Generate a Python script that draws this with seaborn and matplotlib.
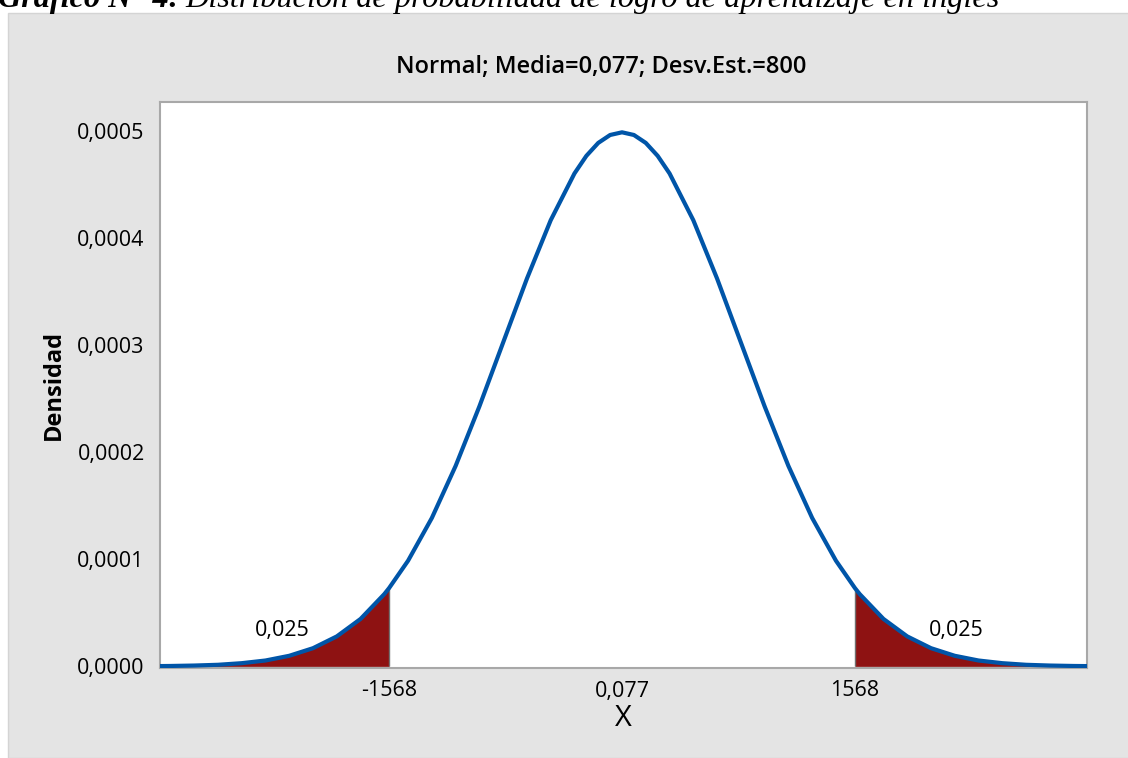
import numpy as np
import pandas as pd
import matplotlib
matplotlib.use("Agg")
import matplotlib.pyplot as plt
import seaborn as sns
from matplotlib.patches import Rectangle

# valores (densidad normal, media 0,077, desv.est. 800)
x_vals = [-3200, -3040, -2880, -2720, -2560, -2400, -2240, -2080, -1920, -1760,
          -1600, -1568, -1440, -1280, -1120, -960, -800, -640, -480, -320, -240, -160, -80,
          0, 80, 160, 240, 320, 480, 640, 800, 960, 1120, 1280, 1440, 1568, 1600, 1760,
          1920, 2080, 2240, 2400, 2560, 2720, 2880, 3040, 3200]
dens_e4 = [0.002, 0.004, 0.008, 0.015, 0.030, 0.055, 0.099, 0.170, 0.280, 0.443,
           0.675, 0.731, 0.987, 1.386, 1.872, 2.428, 3.025, 3.621, 4.166, 4.603, 4.767, 4.888, 4.962,
           4.987, 4.962, 4.888, 4.767, 4.603, 4.166, 3.621, 3.025, 2.428, 1.872, 1.386, 0.987, 0.731,
           0.675, 0.443, 0.280, 0.170, 0.099, 0.055, 0.030, 0.015, 0.008, 0.004, 0.002]
crit_left = -1568
crit_right = 1568
tail_prob = "0,025"

x_ticks = [-1568, 0.077, 1568]
x_ticklabels = ["-1568", "0,077", "1568"]
y_ticks = [0.0, 0.0001, 0.0002, 0.0003, 0.0004, 0.0005]
y_ticklabels = ["0,0000", "0,0001", "0,0002", "0,0003", "0,0004", "0,0005"]

df = pd.DataFrame({"x": x_vals, "dens": np.array(dens_e4) * 1e-4})

sns.set_theme(style="white")
plt.rcParams['font.family'] = ['Open Sans', 'DejaVu Sans']
plt.rcParams['text.color'] = 'black'
plt.rcParams['axes.labelcolor'] = 'black'
plt.rcParams['xtick.color'] = 'black'
plt.rcParams['ytick.color'] = 'black'

W, H = 1128, 758
fig = plt.figure(figsize=(W / 100, H / 100), dpi=100)
fig.patch.set_facecolor("white")

# panel gris de fondo
fig.patches.append(Rectangle((8 / W, 0), 1.0, 1 - 13 / H, transform=fig.transFigure,
                             facecolor="#E4E4E4", edgecolor="#D4D4D4", lw=1, zorder=-10))

ax = fig.add_axes([160 / W, 1 - 668 / H, (1087 - 160) / W, (668 - 102) / H])
ax.set_zorder(1)
ax.set_facecolor("white")

# colas sombreadas
left = df[df["x"] <= crit_left]
right = df[df["x"] >= crit_right]
ax.fill_between(left["x"], 0, left["dens"], color="#8E1212", lw=0, zorder=2)
ax.fill_between(right["x"], 0, right["dens"], color="#8E1212", lw=0, zorder=2)
ax.vlines([crit_left, crit_right], 0, [left["dens"].iloc[-1], right["dens"].iloc[0]],
          color="#707070", lw=1, zorder=2)

sns.lineplot(data=df, x="x", y="dens", ax=ax, color="#0055A8", lw=3, zorder=3)

ax.set_xlim(-3110, 3130)
ax.set_ylim(-0.0000015, 0.000527)
ax.set_xticks(x_ticks)
ax.set_xticklabels(x_ticklabels, fontsize=15.5)
ax.set_yticks(y_ticks)
ax.set_yticklabels(y_ticklabels, fontsize=15.5)
ax.tick_params(axis="x", length=0, pad=9)
ax.tick_params(axis="y", length=8, width=1, color="#A0A0A0", labelcolor="black", pad=3)
for s in ax.spines.values():
    s.set_color("#A8A8A8")
    s.set_linewidth(1.5)

ax.set_xlabel("X", fontsize=21, labelpad=2)
ax.set_ylabel("Densidad", fontsize=17, fontweight="bold", labelpad=8)

ax.text(-2290, 0.000028, tail_prob, ha="center", va="baseline", fontsize=15.5, zorder=4)
ax.text(2250, 0.000028, tail_prob, ha="center", va="baseline", fontsize=15.5, zorder=4)

fig.text(601 / W, 1 - 73 / H, "Normal; Media=0,077; Desv.Est.=800", ha="center",
         va="baseline", fontsize=17, fontweight="semibold")

# titulo superior (recortado en el borde)
t1 = fig.text(-2 / W, 1 - 7 / H, "Gráfico N° 4:", family="Liberation Serif",
              style="italic", fontweight="bold", fontsize=23.2, va="baseline", ha="left")
fig.canvas.draw()
bb = t1.get_window_extent()
fig.text(bb.x1 / W + 6 / W, 1 - 7 / H,
         "Distribución de probabilidad de logro de aprendizaje en inglés",
         family="Liberation Serif", style="italic", fontsize=23.2, va="baseline", ha="left")

fig.savefig("out.png", dpi=100)
